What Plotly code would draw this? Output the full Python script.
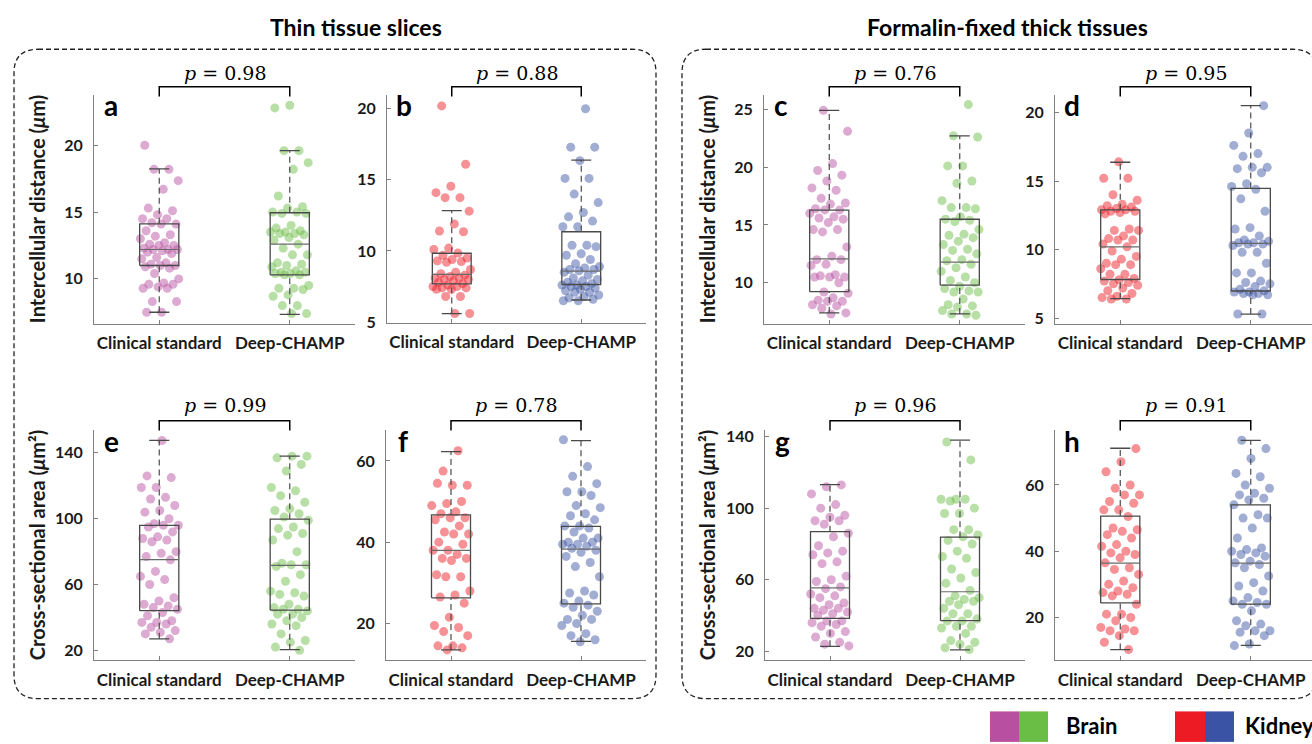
import plotly.graph_objects as go

W, H = 1312, 744

# ---------------- data ----------------
categories = ["Clinical standard", "Deep-CHAMP"]
panel_letters = ["a", "b", "c", "d", "e", "f", "g", "h"]
p_values = ["0.98", "0.88", "0.76", "0.95", "0.99", "0.78", "0.96", "0.91"]
group_titles = ["Thin tissue slices", "Formalin-fixed thick tissues"]
y_titles = ["Intercellular distance (<i>μ</i>m)", "Cross-sectional area (<i>μ</i>m²)"]
legend_labels = ["Brain", "Kidney"]

# panel a (brain, thin, distance)
a_clinical = [20.0, 18.2, 18.2, 17.35, 16.7, 15.3, 15.1, 14.8, 14.5, 14.5, 14.2, 14.1, 14.1, 13.6, 13.3,
              13.2, 13.0, 12.7, 12.6, 12.5, 12.5, 12.3, 12.2, 12.2, 12.2, 12.1, 12.0, 11.9, 11.6, 11.5,
              11.2, 11.1, 11.0, 11.0, 10.9, 10.8, 10.4, 10.0, 9.7, 9.6, 9.6, 9.4, 9.3, 9.3, 8.3, 8.3, 7.5, 7.5]
a_deep = [23.0, 22.8, 19.6, 19.6, 18.7, 18.2, 16.2, 15.4, 15.3, 15.0, 15.0, 14.9, 14.9, 14.0, 13.8, 13.6,
          13.5, 13.5, 13.4, 13.4, 13.3, 13.1, 12.9, 12.6, 12.3, 11.8, 11.8, 11.2, 11.1, 11.0, 10.9, 10.6,
          10.5, 10.5, 10.4, 10.4, 10.3, 10.3, 9.5, 9.3, 9.3, 9.2, 8.8, 8.7, 8.0, 8.0, 7.4, 7.4]
# panel b (kidney, thin, distance)
b_clinical = [20.2, 16.1, 14.55, 14.1, 13.75, 13.75, 12.8, 11.9, 11.4, 11.35, 10.2, 10.1, 9.85, 9.7, 9.5,
              9.4, 9.3, 9.25, 9.2, 8.7, 8.5, 8.4, 8.3, 8.2, 8.1, 8.1, 8.0, 8.0, 7.9, 7.8, 7.7, 7.6, 7.5,
              7.5, 7.4, 7.4, 7.3, 7.3, 6.8, 6.8, 5.6, 5.6]
b_deep = [20.0, 17.3, 17.3, 16.35, 15.1, 15.1, 14.0, 13.4, 12.7, 12.4, 12.1, 11.7, 11.7, 10.4, 10.4, 10.3,
          9.8, 9.7, 9.4, 9.1, 8.9, 8.8, 8.7, 8.7, 8.6, 8.5, 8.3, 8.1, 8.0, 7.9, 7.8, 7.7, 7.6, 7.6, 7.5,
          7.5, 7.4, 7.3, 7.2, 7.1, 7.1, 6.9, 6.8, 6.7, 6.6, 6.5, 6.5]
# panel c (brain, thick, distance)
c_clinical = [24.9, 23.1, 20.3, 19.7, 19.3, 18.8, 18.2, 18.0, 17.3, 16.9, 16.8, 16.4, 16.3, 16.3, 16.0,
              15.7, 15.6, 15.5, 15.2, 14.6, 14.6, 14.4, 13.1, 12.3, 12.0, 12.0, 11.6, 11.5, 10.7, 10.6,
              10.5, 10.5, 10.5, 10.0, 9.2, 9.1, 8.7, 8.5, 8.4, 8.4, 8.1, 8.0, 7.8, 7.4, 7.3]
c_deep = [25.4, 22.7, 22.6, 20.1, 20.1, 18.8, 18.6, 17.1, 16.5, 16.5, 16.4, 15.7, 15.5, 15.4, 15.3, 14.6,
          14.2, 14.1, 13.9, 13.6, 13.3, 12.9, 12.8, 12.5, 12.0, 11.9, 11.6, 11.3, 11.0, 10.5, 10.2, 10.0,
          9.7, 9.5, 9.3, 9.2, 9.2, 8.6, 8.1, 8.0, 7.9, 7.6, 7.3, 7.3, 7.2]
# panel d (kidney, thick, distance)
d_clinical = [16.4, 15.2, 15.2, 14.0, 13.6, 13.3, 13.2, 13.1, 13.0, 12.9, 12.9, 12.8, 12.8, 12.7, 12.6,
              11.5, 11.4, 11.4, 11.0, 10.8, 10.7, 10.7, 10.4, 10.2, 9.9, 9.5, 9.3, 9.0, 8.9, 8.9, 8.6,
              8.2, 8.2, 7.9, 7.8, 7.7, 7.6, 7.5, 7.4, 7.2, 7.0, 6.8, 6.6, 6.5, 6.4, 6.4]
d_deep = [20.5, 18.5, 17.6, 17.0, 16.8, 16.0, 16.0, 15.9, 15.6, 14.8, 14.6, 14.4, 13.7, 12.8, 11.6, 11.5,
          11.0, 10.7, 10.6, 10.5, 10.5, 10.4, 10.4, 10.3, 9.8, 9.8, 9.0, 8.3, 8.3, 7.7, 7.6, 7.5, 7.3,
          7.1, 7.0, 6.9, 6.9, 6.8, 6.8, 6.7, 6.7, 5.3, 5.3]
# panel e (brain, thin, area)
e_clinical = [147.5, 126, 125, 119, 119, 113, 112, 108, 105, 104, 100, 97, 96, 96, 95, 92, 89, 88, 87, 86,
              80, 79, 77, 75, 68, 65, 63, 60, 52, 50, 48, 47, 46, 45, 43, 41, 38, 37, 37, 36, 34, 32, 31,
              30, 27]
e_deep = [138, 138, 137, 133, 129, 119, 117, 114, 110, 106, 105, 103, 101, 99, 95, 94, 91, 90, 87, 80, 73,
          72, 72, 71, 66, 62, 56, 55, 54, 53, 48, 46, 45, 45, 44, 42, 42, 40, 38, 36, 35, 30, 26, 25, 22, 20]
# panel f (kidney, thin, area)
f_clinical = [62.5, 57.5, 54, 54, 54.5, 50, 49.5, 49, 47.5, 47, 46, 46, 45.5, 44, 42.5, 42, 42, 40, 39.5,
              38, 38, 37, 36, 36, 35.5, 32, 31.5, 31.5, 28, 27, 26.5, 25, 21.5, 19.5, 19, 18, 17, 14.5,
              14.5, 14, 13.5]
f_deep = [65.2, 58.6, 56.2, 54.4, 52.4, 52.4, 51.5, 49, 48.5, 47, 46.5, 45.5, 44, 44, 43.5, 42.5, 41, 41,
          40, 40, 39.5, 39.5, 39, 38.5, 38, 37.5, 36.5, 35, 34, 31.5, 28, 27.5, 27, 25.5, 25, 24.5, 24, 23,
          22, 21, 21, 20, 19.5, 17.5, 17, 16, 15.5]
# panel g (brain, thick, area)
g_clinical = [113, 112, 108, 102, 100, 96, 95, 93, 93, 91, 86, 84, 79, 76, 75, 74, 70, 69, 62, 60, 59, 56,
              55, 52, 51, 50, 47, 46, 44, 44, 43, 42, 41, 40, 37, 37, 36, 35, 34, 31, 30, 28, 25, 24, 23]
g_deep = [137, 127, 105, 105, 105, 104, 100, 97, 97, 88, 88, 85, 84, 82, 80, 76, 73, 72, 66, 64, 61, 58,
          54, 51, 50, 49, 48, 48, 46, 44, 41, 41, 38, 37, 37, 34, 34, 33, 30, 26, 25, 24, 22, 21]
# panel h (kidney, thick, area)
h_clinical = [71, 67, 64, 60, 59, 57, 57, 55, 54.5, 52.5, 52.5, 50.5, 47, 46.5, 46, 45, 44, 42, 41.5, 40,
              39.5, 39, 38, 36.5, 35, 34.5, 33, 31, 30, 29, 28, 27.5, 27, 26.5, 24, 21, 21, 20, 19, 17,
              16.5, 16, 16, 14.5, 12.5, 10.3]
h_deep = [73.5, 71, 68, 63.5, 62.5, 60, 59, 57.5, 57, 56, 55.5, 54, 51, 50, 50, 47, 44, 41, 40.5, 40, 39.5,
          39, 38.5, 37, 36.5, 36, 35, 32.5, 30.5, 29.5, 28, 26, 25, 24.5, 24, 24, 22, 19, 18, 17.5, 16, 16,
          15.5, 14.5, 12, 11.5]

# box statistics: [lower whisker, q1, median, q3, upper whisker]
a_box = [[7.5, 11.0, 12.2, 14.12, 18.24], [7.35, 10.3, 12.6, 14.95, 19.6]]
b_box = [[5.6, 7.68, 8.35, 9.84, 12.84], [6.55, 7.64, 8.58, 11.35, 16.38]]
c_box = [[7.4, 9.23, 12.06, 16.28, 24.9], [7.31, 9.8, 11.78, 15.49, 22.7]]
d_box = [[6.43, 7.82, 10.2, 12.9, 16.37], [5.3, 6.98, 10.45, 14.46, 20.5]]
e_box = [[27.0, 44.1, 75.2, 95.9, 147.6], [20.4, 44.5, 71.6, 99.7, 138.0]]
f_box = [[13.5, 26.3, 38.0, 46.7, 62.3], [15.6, 24.8, 38.3, 43.9, 65.0]]
g_box = [[22.8, 38.4, 55.5, 86.9, 113.2], [20.8, 37.1, 53.3, 83.8, 138.0]]
h_box = [[10.3, 24.4, 36.4, 50.6, 71.1], [11.6, 24.0, 36.4, 54.0, 73.5]]

y_ticks = [[10, 15, 20], [5, 10, 15, 20], [10, 15, 20, 25], [5, 10, 15, 20],
           [20, 60, 100, 140], [20, 40, 60], [20, 60, 100, 140], [20, 40, 60]]

panels_points = [(a_clinical, a_deep), (b_clinical, b_deep), (c_clinical, c_deep), (d_clinical, d_deep),
                 (e_clinical, e_deep), (f_clinical, f_deep), (g_clinical, g_deep), (h_clinical, h_deep)]
panels_box = [a_box, b_box, c_box, d_box, e_box, f_box, g_box, h_box]

# ---------------- style / layout ----------------
brain_colors = ["#B84FA0", "#6ABD45"]
kidney_colors = ["#ED1C24", "#3A53A4"]
panel_tissue = ["brain", "kidney", "brain", "kidney", "brain", "kidney", "brain", "kidney"]

# axis boxes in pixels: (left, right, top, bottom)
px_boxes = [(94, 355, 92, 325), (387, 646, 92, 324), (764, 1025, 92, 325), (1055, 1312, 92, 325),
            (94, 355, 433, 667), (386, 646, 433, 667), (765, 1025, 433, 667), (1055, 1312, 433, 667)]
y_ranges = [[6.64, 23.8], [4.95, 21.0], [6.46, 26.27], [4.59, 21.31],
            [14.0, 153.9], [10.95, 67.6], [15.0, 143.7], [7.08, 76.6]]
x_ranges = [[0.5, 2.5], [0.5, 2.5], [0.5, 2.5], [0.5, 2.5 - 4 / 130.5],
            [0.5, 2.5], [0.5, 2.5], [0.5, 2.5], [0.5, 2.5 - 4 / 130.5]]


def px(x):
    return x / W


def py(y):
    return 1 - y / H


SANS = "Lato"
TXT = "#1a1a1a"
AX = "#808080"
BOXC = "#4a4a4a"
MEDC = "#6a6a6a"

fig = go.Figure()
layout = dict(width=W, height=H, margin=dict(l=0, r=0, t=0, b=0),
              paper_bgcolor="white", plot_bgcolor="white", showlegend=False)
shapes = []
annotations = []


def jitter(n, phase):
    return [0.15 * (2 * ((i * 0.6180339887 + phase) % 1.0) - 1) for i in range(n)]


for k in range(8):
    xa = "x" if k == 0 else f"x{k+1}"
    ya = "y" if k == 0 else f"y{k+1}"
    l, r, t, b = px_boxes[k]
    layout["xaxis" if k == 0 else f"xaxis{k+1}"] = dict(
        domain=[px(l), px(r)], anchor=ya, range=x_ranges[k],
        tickvals=[1, 2], ticktext=categories, showline=True, linecolor=AX, linewidth=1,
        ticks="inside", ticklen=4, tickcolor=AX, showgrid=False, zeroline=False,
        tickfont=dict(family=SANS, size=17, color=TXT, weight="bold"), ticklabelstandoff=4,
        fixedrange=True)
    layout["yaxis" if k == 0 else f"yaxis{k+1}"] = dict(
        domain=[py(b), py(t)], anchor=xa, range=y_ranges[k],
        tickvals=y_ticks[k], showline=True, linecolor=AX, linewidth=1,
        ticks="inside", ticklen=4, tickcolor=AX, showgrid=False, zeroline=False,
        tickfont=dict(family=SANS, size=16, color=TXT, weight="bold"), ticklabelstandoff=7,
        fixedrange=True)

    cols = brain_colors if panel_tissue[k] == "brain" else kidney_colors
    pts = panels_points[k]
    for g in range(2):
        vals = pts[g]
        jit = jitter(len(vals), 0.13 + 0.37 * g + 0.11 * k)
        fig.add_trace(go.Scatter(
            x=[g + 1 + j for j in jit], y=vals, mode="markers", xaxis=xa, yaxis=ya,
            marker=dict(color=cols[g], size=9, opacity=0.48, line=dict(width=0)),
            hoverinfo="y"))
    for g in range(2):
        lo, q1, med, q3, hi = panels_box[k][g]
        xc = g + 1
        w = 0.15
        cw = 0.077
        fig.add_trace(go.Scatter(x=[xc, xc], y=[q3, hi], mode="lines", xaxis=xa, yaxis=ya,
                                 line=dict(color=BOXC, width=1.2, dash="6px,4px"), hoverinfo="skip"))
        fig.add_trace(go.Scatter(x=[xc, xc], y=[lo, q1], mode="lines", xaxis=xa, yaxis=ya,
                                 line=dict(color=BOXC, width=1.2, dash="6px,4px"), hoverinfo="skip"))
        fig.add_trace(go.Scatter(x=[xc - cw, xc + cw, None, xc - cw, xc + cw],
                                 y=[hi, hi, None, lo, lo], mode="lines", xaxis=xa, yaxis=ya,
                                 line=dict(color=BOXC, width=1.3), hoverinfo="skip"))
        fig.add_trace(go.Scatter(x=[xc - w, xc + w, xc + w, xc - w, xc - w],
                                 y=[q1, q1, q3, q3, q1], mode="lines", xaxis=xa, yaxis=ya,
                                 line=dict(color=BOXC, width=1.3), hoverinfo="skip"))
        fig.add_trace(go.Scatter(x=[xc - w, xc + w], y=[med, med], mode="lines", xaxis=xa, yaxis=ya,
                                 line=dict(color=MEDC, width=1.2), hoverinfo="skip"))

    # significance bracket
    row_top = 84 if k < 4 else 423.5
    shapes.append(dict(type="path", xref=xa, yref="paper",
                       path=f"M 1,{py(row_top + 10)} L 1,{py(row_top)} L 2,{py(row_top)} L 2,{py(row_top + 10)}",
                       line=dict(color="black", width=1.5)))
    annotations.append(dict(xref=xa, yref="paper", x=1.5, y=py(70 if k < 4 else 407.5),
                            text=f"<i>p</i> = {p_values[k]}", showarrow=False,
                            font=dict(family="DejaVu Serif", size=19, color="black"),
                            xanchor="center", yanchor="middle"))
    # panel letter
    annotations.append(dict(xref="paper", yref="paper", x=px(l + 17), y=py(t + 11),
                            text=panel_letters[k], showarrow=False,
                            font=dict(family=SANS, size=28, color="black", weight="bold"),
                            xanchor="center", yanchor="middle"))

# y axis titles
for xc_px in (37, 707):
    for row, (yc, txt) in enumerate([(208.5, y_titles[0]), (550, y_titles[1])]):
        annotations.append(dict(xref="paper", yref="paper", x=px(xc_px), y=py(yc), text=txt,
                                textangle=-90, showarrow=False,
                                font=dict(family=SANS, size=20, color=TXT, weight="bold"),
                                xanchor="center", yanchor="middle"))

# group titles
for xc_px, txt in [(356, group_titles[0]), (1007, group_titles[1])]:
    annotations.append(dict(xref="paper", yref="paper", x=px(xc_px), y=py(23), text=txt,
                            showarrow=False, font=dict(family=SANS, size=23, color="black", weight="bold"),
                            xanchor="center", yanchor="middle"))


# dashed rounded frames
def rounded(x0, y0, x1, y1, r):
    pts = [
        f"M {px(x0 + r)},{py(y0)}", f"L {px(x1 - r)},{py(y0)}",
        f"Q {px(x1)},{py(y0)} {px(x1)},{py(y0 + r)}", f"L {px(x1)},{py(y1 - r)}",
        f"Q {px(x1)},{py(y1)} {px(x1 - r)},{py(y1)}", f"L {px(x0 + r)},{py(y1)}",
        f"Q {px(x0)},{py(y1)} {px(x0)},{py(y1 - r)}", f"L {px(x0)},{py(y0 + r)}",
        f"Q {px(x0)},{py(y0)} {px(x0 + r)},{py(y0)}", "Z"]
    return " ".join(pts)


for (x0, x1) in [(14, 656), (682, 1317)]:
    shapes.append(dict(type="path", xref="paper", yref="paper", path=rounded(x0, 46, x1, 706, 24),
                       line=dict(color="#222222", width=1.3, dash="5px,3px")))

# legend swatches
legend_swatches = [(990, 1019, brain_colors[0]), (1019, 1048, brain_colors[1]),
                   (1175, 1205, kidney_colors[0]), (1205, 1234, kidney_colors[1])]
for x0, x1, c in legend_swatches:
    shapes.append(dict(type="rect", xref="paper", yref="paper", x0=px(x0), x1=px(x1),
                       y0=py(750), y1=py(719), fillcolor=c, line=dict(width=0)))
for xl, txt in [(1064, legend_labels[0]), (1243, legend_labels[1])]:
    annotations.append(dict(xref="paper", yref="paper", x=px(xl), y=py(733), text=txt, showarrow=False,
                            font=dict(family=SANS, size=22, color="black", weight="bold"),
                            xanchor="left", yanchor="middle"))

layout["shapes"] = shapes
layout["annotations"] = annotations
fig.update_layout(**layout)

fig.write_html("out.html", config={"displayModeBar": False},
               post_script="document.body.style.margin='0';document.body.style.overflow='hidden';")
